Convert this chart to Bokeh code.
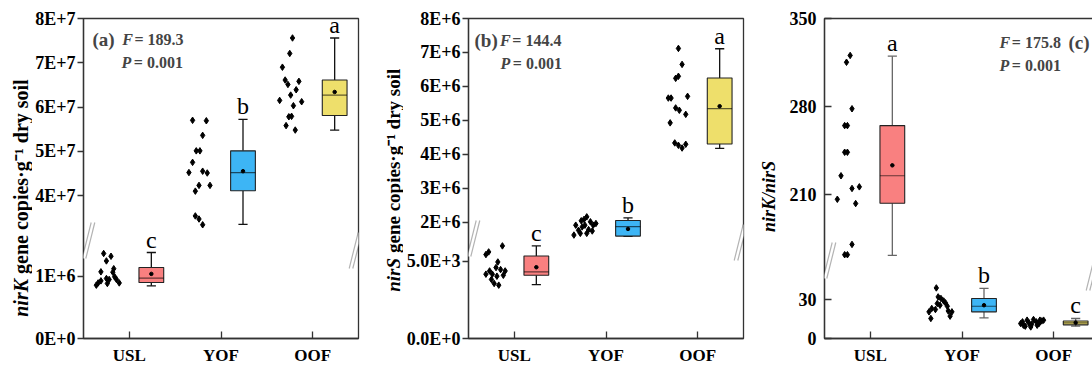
import numpy as np
from bokeh.plotting import figure
from bokeh.models import Range1d, FixedTicker, Label, PolyAnnotation
from bokeh.layouts import row
from bokeh.embed import file_html
from bokeh.resources import INLINE
from bokeh.core.properties import value

groups = ["USL", "YOF", "OOF"]
box_colors = ["#F98080", "#3DB5F5", "#EEDF6B"]

# ---------------- Panel (a): nirK gene copies ----------------
a_usl = [1.364e6, 1.32e6, 1.245e6, 1.07e6, 1.12e6, 1.064e6, 0.963e6, 0.947e6, 0.892e6, 0.925e6, 0.883e6, 0.947e6, 0.892e6, 0.856e6, 0.99e6]
a_usl_jit = [-0.28, -0.20, -0.25, -0.31, -0.17, -0.18, -0.25, -0.22, -0.34, -0.31, -0.24, -0.14, -0.11, -0.36, -0.16]
a_yof = [5.70e7, 5.69e7, 5.36e7, 5.01e7, 5.01e7, 4.75e7, 4.52e7, 4.55e7, 4.51e7, 4.23e7, 4.23e7, 4.10e7, 3.54e7, 3.47e7, 3.34e7]
a_yof_jit = [-0.31, -0.16, -0.20, -0.27, -0.23, -0.31, -0.35, -0.20, -0.15, -0.24, -0.12, -0.28, -0.28, -0.24, -0.20]
a_oof = [7.56e7, 7.21e7, 6.90e7, 6.61e7, 6.58e7, 6.51e7, 6.39e7, 6.27e7, 6.15e7, 6.12e7, 6.03e7, 5.79e7, 5.78e7, 5.58e7, 5.48e7]
a_oof_jit = [-0.22, -0.25, -0.33, -0.30, -0.15, -0.27, -0.18, -0.24, -0.36, -0.12, -0.21, -0.23, -0.26, -0.29, -0.19]
a_q1 = [0.90e6, 4.11e7, 5.81e7]
a_med = [0.968e6, 4.52e7, 6.27e7]
a_q3 = [1.14e6, 5.01e7, 6.61e7]
a_min = [0.845e6, 3.35e7, 5.48e7]
a_max = [1.38e6, 5.72e7, 7.56e7]
a_mean = [1.037e6, 4.55e7, 6.34e7]
a_letters = ["c", "b", "a"]
a_ticks = [0, 1e6, 4e7, 5e7, 6e7, 7e7, 8e7]
a_tick_labels = ["0E+0", "1E+6", "4E+7", "5E+7", "6E+7", "7E+7", "8E+7"]
a_stats = ["(a)", "189.3", "0.001"]

# ---------------- Panel (b): nirS gene copies ----------------
b_usl = [5.99e3, 5.60e3, 5.43e3, 4.95e3, 4.59e3, 4.37e3, 4.46e3, 4.37e3, 4.16e3, 4.16e3, 4.03e3, 4.09e3, 3.82e3, 3.56e3, 3.45e3]
b_usl_jit = [-0.13, -0.28, -0.31, -0.18, -0.20, -0.27, -0.15, -0.10, -0.31, -0.24, -0.19, -0.12, -0.25, -0.22, -0.17]
b_yof = [2.165e6, 2.09e6, 2.02e6, 2.05e6, 1.92e6, 1.92e6, 1.92e6, 1.77e6, 1.79e6, 1.63e6, 1.68e6, 1.68e6, 1.75e6, 1.87e6, 1.97e6]
b_yof_jit = [-0.21, -0.24, -0.17, -0.27, -0.33, -0.23, -0.14, -0.30, -0.19, -0.35, -0.28, -0.21, -0.15, -0.26, -0.11]
b_oof = [7.12e6, 6.65e6, 6.30e6, 6.24e6, 5.66e6, 5.66e6, 5.71e6, 5.37e6, 5.30e6, 5.18e6, 4.93e6, 4.34e6, 4.27e6, 4.19e6, 4.30e6]
b_oof_jit = [-0.21, -0.17, -0.21, -0.24, -0.32, -0.29, -0.11, -0.24, -0.20, -0.13, -0.30, -0.25, -0.21, -0.17, -0.13]
b_q1 = [4.09e3, 1.60e6, 4.31e6]
b_med = [4.31e3, 1.88e6, 5.35e6]
b_q3 = [5.34e3, 2.06e6, 6.25e6]
b_min = [3.49e3, 1.59e6, 4.18e6]
b_max = [5.99e3, 2.135e6, 7.11e6]
b_mean = [4.61e3, 1.81e6, 5.42e6]
b_letters = ["c", "b", "a"]
b_ticks = [0, 5e3, 2e6, 3e6, 4e6, 5e6, 6e6, 7e6, 8e6]
b_tick_labels = ["0.0E+0", "5.0E+3", "2E+6", "3E+6", "4E+6", "5E+6", "6E+6", "7E+6", "8E+6"]
b_stats = ["(b)", "144.4", "0.001"]

# ---------------- Panel (c): nirK/nirS ratio ----------------
c_usl = [320.6, 315.2, 278.2, 264.8, 264.8, 243.6, 243.6, 224.9, 214.8, 216.1, 206.2, 202.8, 170.3, 162.1, 162.1]
c_usl_jit = [-0.22, -0.26, -0.20, -0.28, -0.25, -0.28, -0.25, -0.32, -0.20, -0.12, -0.36, -0.16, -0.20, -0.28, -0.25]
c_yof = [38.9, 32.0, 30.8, 28.9, 26.9, 27.4, 25.6, 24.8, 23.1, 22.3, 20.5, 21.2, 20.5, 15.4, 17.2]
c_yof_jit = [-0.28, -0.26, -0.23, -0.20, -0.27, -0.18, -0.24, -0.16, -0.33, -0.29, -0.36, -0.15, -0.11, -0.34, -0.13]
c_oof = [11.5, 10.2, 14.1, 12.0, 11.0, 8.9, 14.6, 12.8, 11.5, 13.5, 9.5, 12.8, 10.2, 14.1, 14.1]
c_oof_jit = [-0.36, -0.33, -0.29, -0.27, -0.24, -0.25, -0.22, -0.19, -0.16, -0.13, -0.31, -0.34, -0.18, -0.15, -0.11]
c_q1 = [203.0, 20.5, 10.5]
c_med = [224.9, 24.8, 12.0]
c_q3 = [264.8, 30.8, 13.5]
c_min = [161.5, 15.8, 9.5]
c_max = [320.0, 38.5, 15.4]
c_mean = [233.2, 25.6, 12.2]
c_letters = ["a", "b", "c"]
c_ticks = [0, 30, 210, 280, 350]
c_tick_labels = ["0", "30", "210", "280", "350"]
c_stats = ["(c)", "175.8", "0.001"]

# ---------------- layout constants ----------------
FONT = "Liberation Serif"
PX = 275 / 3.0      # pixels per category unit
TOP = 18
FH = 320            # frame height (y range is in frame pixels)
H = 367
INK = "#333333"


def make_tf(lo_top, up_bot, up_top, brk, Hf=FH):
    """piecewise-linear broken axis: [0, lo_top] -> [0, brk], [up_bot, up_top] -> [brk, Hf]"""
    def tf(v):
        v = np.asarray(v, dtype=float)
        lower = v / lo_top * brk
        upper = brk + (v - up_bot) / (up_top - up_bot) * (Hf - brk)
        return np.where(v <= lo_top, lower, upper)
    return tf


def title_fig(x0, w, pieces):
    t = figure(frame_width=w, frame_height=H, min_border=0,
               x_range=Range1d(0, w), y_range=Range1d(0, H),
               x_axis_location=None, y_axis_location=None,
               output_backend="svg", toolbar_location=None)
    t.outline_line_color = None
    t.grid.visible = False
    t.background_fill_color = "white"
    t.border_fill_color = "white"
    for (txt, style, size, X, Y, align) in pieces:
        t.text(x=[X - x0], y=[H - Y], text=[txt], angle=np.pi / 2, text_align=align,
               text_baseline="middle", text_font=value(FONT), text_font_style=style,
               text_font_size=size, text_color="black")
    return t


def build(cfg):
    x0, fl, fw, br = cfg["canvas_x0"], cfg["fl"], cfg["fw"], cfg["br"]
    xmax = fw / PX
    tf = cfg["tf"]
    p = figure(frame_width=fw, frame_height=FH, min_border_left=fl, min_border_right=br,
               min_border_top=TOP, min_border_bottom=H - TOP - FH,
               x_range=Range1d(0, xmax), y_range=Range1d(0, FH),
               output_backend="svg", toolbar_location=None)
    p.xgrid.visible = False
    p.ygrid.visible = False
    p.outline_line_color = INK
    p.outline_line_width = 1.3
    p.background_fill_color = "white"
    p.border_fill_color = "white"

    gx = lambda X: (X - x0 - fl) / PX
    gy = lambda Y: (TOP + FH) - Y

    # axes
    xa = p.xaxis[0]
    xa.ticker = FixedTicker(ticks=[0.5, 1.5, 2.5])
    xa.major_label_overrides = {0.5: groups[0], 1.5: groups[1], 2.5: groups[2]}
    xa.major_tick_in = 7
    xa.major_tick_out = 0
    xa.minor_tick_line_color = None
    xa.axis_line_color = INK
    xa.axis_line_width = 1.3
    xa.major_tick_line_color = INK
    xa.major_tick_line_width = 1.3
    xa.major_label_text_font = FONT
    xa.major_label_text_font_style = "bold"
    xa.major_label_text_font_size = "17px"
    xa.major_label_text_color = "black"
    xa.major_label_standoff = 7

    ya = p.yaxis[0]
    tpos = [round(float(tf(t)), 4) for t in cfg["ticks"]]
    ya.ticker = FixedTicker(ticks=tpos)
    ya.major_label_overrides = {k: lab for k, lab in zip(tpos, cfg["tick_labels"])}
    ya.major_tick_in = cfg["tick_in"]
    ya.major_tick_out = cfg["tick_out"]
    ya.minor_tick_line_color = None
    ya.axis_line_color = INK
    ya.axis_line_width = 1.3
    ya.major_tick_line_color = INK
    ya.major_tick_line_width = 1.3
    ya.major_label_text_font = FONT
    ya.major_label_text_font_style = "bold"
    ya.major_label_text_font_size = "18px"
    ya.major_label_text_color = "black"
    ya.major_label_standoff = cfg["standoff"]

    cats = np.array([0.5, 1.5, 2.5])
    bx = cats + 0.24
    hw = 0.135

    # jittered raw points
    for i, (vals, jit) in enumerate(cfg["points"]):
        p.scatter(x=cats[i] + np.array(jit), y=tf(vals), marker="diamond", size=6.5,
                  fill_color="black", line_color="black")

    # whiskers
    wc = cfg["whisker"]
    p.segment(x0=bx, x1=bx, y0=tf(cfg["q3"]), y1=tf(cfg["max"]), line_color=wc, line_width=1.3)
    p.segment(x0=bx, x1=bx, y0=tf(cfg["q1"]), y1=tf(cfg["min"]), line_color=wc, line_width=1.3)
    p.segment(x0=bx - 0.05, x1=bx + 0.05, y0=tf(cfg["max"]), y1=tf(cfg["max"]), line_color=wc, line_width=1.3)
    p.segment(x0=bx - 0.05, x1=bx + 0.05, y0=tf(cfg["min"]), y1=tf(cfg["min"]), line_color=wc, line_width=1.3)
    # boxes
    p.quad(left=bx - hw, right=bx + hw, bottom=tf(cfg["q1"]), top=tf(cfg["q3"]),
           fill_color=box_colors, line_color="#222222", line_width=1.1)
    p.segment(x0=bx - hw, x1=bx + hw, y0=tf(cfg["med"]), y1=tf(cfg["med"]),
              line_color="black", line_alpha=0.6, line_width=1.2)
    p.scatter(x=bx, y=tf(cfg["mean"]), marker="circle", size=3.5, fill_color="black", line_color="black")
    # significance letters
    p.text(x=bx, y=tf(cfg["max"]) + 13, text=cfg["letters"], text_align="center",
           text_baseline="alphabetic", text_font=value(FONT), text_font_size="24px", text_color="black")

    # broken-axis marks
    for (cx, cy) in cfg["breaks"]:
        dx, dy, gap = 4.5, 18, 1.8
        pts = [(cx - gap - dx, cy + dy), (cx - gap + dx, cy - dy), (cx + gap + dx, cy - dy), (cx + gap - dx, cy + dy)]
        p.add_layout(PolyAnnotation(xs=[gx(a) for a, b in pts], ys=[gy(b) for a, b in pts],
                                    fill_color="white", fill_alpha=1.0, line_color=None, level="overlay"))
        for s in (-gap, gap):
            p.add_layout(PolyAnnotation(xs=[gx(cx + s - dx), gx(cx + s + dx)], ys=[gy(cy + dy), gy(cy - dy)],
                                        fill_alpha=0, line_color="black", line_width=1.2, level="overlay"))

    # statistics text
    lab, F, P = cfg["stats"]
    fx, fy, px_, py = cfg["fp_pos"]
    p.add_layout(Label(x=gx(cfg["lab_pos"][0]), y=gy(cfg["lab_pos"][1]), text=lab, text_font=FONT,
                       text_font_style="bold", text_font_size="19px", text_baseline="alphabetic"))
    p.add_layout(Label(x=gx(fx), y=gy(fy), text="F", text_font=FONT, text_font_style="bold italic",
                       text_font_size="16px", text_baseline="alphabetic"))
    p.add_layout(Label(x=gx(fx + 12.3), y=gy(fy), text="= " + F, text_font=FONT, text_font_style="bold",
                       text_font_size="16px", text_baseline="alphabetic"))
    p.add_layout(Label(x=gx(px_), y=gy(py), text="P", text_font=FONT, text_font_style="bold italic",
                       text_font_size="16px", text_baseline="alphabetic"))
    p.add_layout(Label(x=gx(px_ + 12.3), y=gy(py), text="= " + P, text_font=FONT, text_font_style="bold",
                       text_font_size="16px", text_baseline="alphabetic"))
    return p


# panel a: title strip 0..32, figure 32..363 (frame 83..358)
ta = title_fig(0, 32, [("nirK", "bold italic", "20px", 20, 260.5, "right"),
                       ("gene copies·g⁻¹ dry soil", "bold", "20px", 20, 255.5, "left")])
cfg_a = dict(canvas_x0=32, fl=51, fw=275, br=5,
             tf=make_tf(1.605e6, 3.03e7, 8e7, 100),
             ticks=a_ticks, tick_labels=a_tick_labels, tick_in=0, tick_out=6, standoff=2,
             points=[(a_usl, a_usl_jit), (a_yof, a_yof_jit), (a_oof, a_oof_jit)],
             q1=a_q1, med=a_med, q3=a_q3, min=a_min, max=a_max, mean=a_mean, letters=a_letters,
             whisker="#111111",
             breaks=[(88, 240), (355, 250)], stats=a_stats,
             lab_pos=(92, 39), fp_pos=(121.7, 39, 121, 62))

# panel b: title strip 363..403, figure 403..743 (frame 463..738)
tb = title_fig(363, 40, [("nirS", "bold italic", "19px", 393, 239.5, "right"),
                         ("gene copies·g⁻¹ dry soil", "bold", "19px", 393, 234.5, "left")])
cfg_b = dict(canvas_x0=403, fl=60, fw=275, br=5,
             tf=make_tf(6339.0, 1.47e6, 8e6, 98),
             ticks=b_ticks, tick_labels=b_tick_labels, tick_in=0, tick_out=6, standoff=2,
             points=[(b_usl, b_usl_jit), (b_yof, b_yof_jit), (b_oof, b_oof_jit)],
             q1=b_q1, med=b_med, q3=b_q3, min=b_min, max=b_max, mean=b_mean, letters=b_letters,
             whisker="#111111",
             breaks=[(468, 238), (735, 242)], stats=b_stats,
             lab_pos=(469, 40), fp_pos=(494.5, 40, 495, 63))

# panel c: title strip 743..780, figure 780..1092 (frame 819..1092)
tc = title_fig(743, 37, [("nirK/nirS", "bold italic", "18px", 763, 178, "center")])
cfg_c = dict(canvas_x0=780, fl=39, fw=273, br=0,
             tf=make_tf(60.0, 157.5, 350.0, 78),
             ticks=c_ticks, tick_labels=c_tick_labels, tick_in=7, tick_out=0, standoff=8,
             points=[(c_usl, c_usl_jit), (c_yof, c_yof_jit), (c_oof, c_oof_jit)],
             q1=c_q1, med=c_med, q3=c_q3, min=c_min, max=c_max, mean=c_mean, letters=c_letters,
             whisker="#666666",
             breaks=[(824, 260), (1087, 272)], stats=c_stats,
             lab_pos=(1063, 42), fp_pos=(994, 42, 994, 65))

pa = build(cfg_a)
pb = build(cfg_b)
pc = build(cfg_c)
layout = row(ta, pa, tb, pb, tc, pc, spacing=0)

open("out.html", "w").write(file_html(layout, INLINE))
